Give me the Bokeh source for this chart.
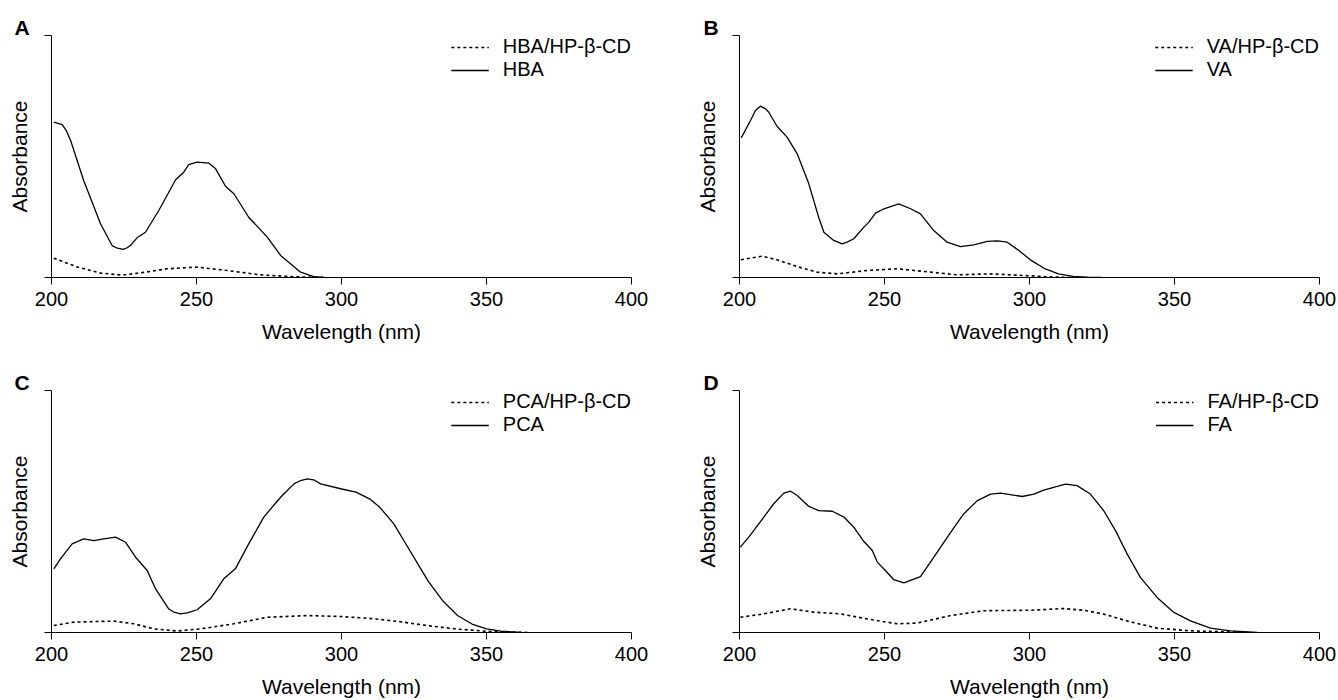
from bokeh.plotting import figure
from bokeh.layouts import column, row
from bokeh.models import Range1d, FixedTicker, Legend, LegendItem
from bokeh.embed import file_html
from bokeh.resources import INLINE

# ---------------- data ----------------
x_ticks = [200, 250, 300, 350, 400]

hba_nm = [200.8, 203.7, 205.1, 206.6, 211.1, 216.9, 220.9, 222.7, 224.7, 226.1, 227.2, 229.5, 232.4, 237.0,
          242.8, 245.6, 247.3, 250.2, 254.2, 256.6, 260.0, 262.9, 268.0, 274.4, 279.0, 285.9, 290.4, 293.9]
hba_abs = [0.642, 0.632, 0.607, 0.566, 0.401, 0.222, 0.132, 0.121, 0.116, 0.123, 0.132, 0.164, 0.187, 0.277,
           0.404, 0.435, 0.466, 0.477, 0.473, 0.449, 0.377, 0.346, 0.249, 0.167, 0.091, 0.022, 0.004, 0.0]
hba_cd_nm = [200.8, 208.9, 217.0, 224.4, 231.8, 239.9, 250.2, 260.6, 272.0, 283.6, 290.0, 295.0]
hba_cd_abs = [0.080, 0.043, 0.018, 0.010, 0.021, 0.036, 0.043, 0.029, 0.011, 0.003, 0.001, 0.0]

va_nm = [200.6, 203.8, 205.5, 207.2, 209.0, 210.1, 213.0, 216.4, 219.9, 223.9, 227.3, 229.1, 232.5, 235.4,
         237.1, 239.4, 242.9, 244.6, 246.9, 249.8, 254.9, 259.0, 262.4, 267.0, 271.6, 276.2, 280.8, 285.4,
         289.0, 292.3, 296.3, 300.3, 305.0, 310.0, 315.0, 320.0, 325.0]
va_abs = [0.577, 0.649, 0.690, 0.708, 0.697, 0.683, 0.624, 0.580, 0.511, 0.387, 0.249, 0.187, 0.153, 0.139,
          0.146, 0.160, 0.208, 0.229, 0.266, 0.284, 0.304, 0.284, 0.263, 0.194, 0.146, 0.128, 0.135, 0.149,
          0.151, 0.146, 0.112, 0.073, 0.038, 0.015, 0.005, 0.001, 0.0]
va_cd_nm = [200.5, 207.8, 213.0, 219.9, 226.8, 233.7, 244.0, 254.4, 263.6, 275.0, 286.6, 300.3, 308.0, 315.0]
va_cd_abs = [0.073, 0.088, 0.073, 0.045, 0.022, 0.015, 0.029, 0.036, 0.025, 0.011, 0.015, 0.007, 0.002, 0.0]

pca_nm = [200.8, 203.1, 207.1, 211.1, 214.6, 218.0, 222.1, 225.5, 229.0, 233.0, 235.9, 240.4, 242.2, 244.5,
          246.8, 250.2, 254.8, 259.4, 263.4, 268.0, 273.2, 279.0, 283.6, 285.9, 288.2, 290.4, 292.8, 299.7,
          305.0, 310.0, 313.0, 318.0, 322.0, 326.0, 330.0, 335.0, 340.0, 345.0, 350.0, 355.0, 362.0]
pca_abs = [0.263, 0.304, 0.366, 0.387, 0.380, 0.387, 0.394, 0.373, 0.311, 0.256, 0.180, 0.098, 0.084, 0.077,
           0.081, 0.094, 0.139, 0.222, 0.263, 0.366, 0.477, 0.559, 0.614, 0.628, 0.635, 0.631, 0.614, 0.594,
           0.580, 0.550, 0.520, 0.450, 0.370, 0.290, 0.210, 0.130, 0.070, 0.035, 0.015, 0.006, 0.0]
pca_cd_nm = [200.8, 207.7, 221.5, 228.4, 235.3, 243.3, 251.4, 262.9, 274.4, 288.2, 299.7, 310.0, 320.0, 330.0,
             340.0, 350.0, 360.0, 365.0]
pca_cd_abs = [0.029, 0.043, 0.047, 0.036, 0.015, 0.006, 0.015, 0.036, 0.063, 0.070, 0.066, 0.058, 0.045,
              0.028, 0.014, 0.005, 0.001, 0.0]

fa_nm = [200.3, 203.2, 208.4, 211.8, 215.3, 217.6, 219.9, 223.9, 227.3, 232.0, 236.0, 239.4, 242.9, 245.8,
         247.5, 250.3, 253.2, 256.7, 262.4, 268.2, 272.8, 277.3, 282.0, 286.6, 290.0, 297.5, 301.5, 304.9,
         312.4, 316.4, 321.0, 325.6, 329.7, 333.7, 338.3, 344.0, 349.8, 355.5, 362.4, 369.3, 378.5]
fa_abs = [0.353, 0.394, 0.477, 0.532, 0.576, 0.584, 0.566, 0.521, 0.504, 0.501, 0.477, 0.435, 0.376, 0.339,
          0.291, 0.256, 0.218, 0.205, 0.231, 0.332, 0.414, 0.490, 0.545, 0.572, 0.576, 0.562, 0.572, 0.588,
          0.613, 0.607, 0.572, 0.503, 0.420, 0.324, 0.227, 0.145, 0.083, 0.048, 0.018, 0.007, 0.0]
fa_cd_nm = [200.3, 208.4, 217.6, 225.6, 234.8, 244.0, 254.4, 261.3, 272.8, 284.2, 300.3, 311.8, 318.7, 325.6,
            334.8, 344.0, 355.5, 369.3, 376.0]
fa_cd_abs = [0.063, 0.077, 0.098, 0.084, 0.077, 0.056, 0.036, 0.039, 0.070, 0.090, 0.092, 0.099, 0.092,
             0.076, 0.044, 0.018, 0.007, 0.002, 0.0]

panels = [
    ("A", "HBA", hba_nm, hba_abs, hba_cd_nm, hba_cd_abs),
    ("B", "VA", va_nm, va_abs, va_cd_nm, va_cd_abs),
    ("C", "PCA", pca_nm, pca_abs, pca_cd_nm, pca_cd_abs),
    ("D", "FA", fa_nm, fa_abs, fa_cd_nm, fa_cd_abs),
]

FONT = "Liberation Sans"


def make_panel(letter, name, nm, ab, cd_nm, cd_ab, left, right, top, bottom, letter_offset):
    p = figure(frame_width=580, frame_height=242,
               min_border_left=left, min_border_right=right,
               min_border_top=top, min_border_bottom=bottom,
               x_range=Range1d(200, 400), y_range=Range1d(0, 1),
               output_backend="svg", toolbar_location=None)
    p.outline_line_color = None
    p.xgrid.visible = False
    p.ygrid.visible = False
    p.background_fill_color = "white"
    p.border_fill_color = "white"

    p.title.text = letter
    p.title.align = "left"
    p.title.offset = letter_offset
    p.title.standoff = -6
    p.title.text_font = FONT
    p.title.text_font_size = "21px"
    p.title.text_font_style = "bold"
    p.title.text_color = "black"

    r_cd = p.line(cd_nm, cd_ab, line_color="black", line_width=1.6, line_dash="3 3")
    r_free = p.line(nm, ab, line_color="black", line_width=1.3)

    xa = p.xaxis[0]
    xa.ticker = FixedTicker(ticks=x_ticks)
    xa.minor_tick_line_color = None
    xa.major_tick_out = 7
    xa.major_tick_in = 0
    xa.axis_line_color = "black"
    xa.major_tick_line_color = "black"
    xa.major_label_text_font = FONT
    xa.major_label_text_font_size = "20px"
    xa.major_label_text_color = "black"
    xa.major_label_standoff = 7
    xa.axis_label = "Wavelength (nm)"
    xa.axis_label_text_font = FONT
    xa.axis_label_text_font_size = "21px"
    xa.axis_label_text_font_style = "normal"
    xa.axis_label_text_color = "black"
    xa.axis_label_standoff = 11

    ya = p.yaxis[0]
    ya.ticker = FixedTicker(ticks=[0, 1])
    ya.major_label_overrides = {0: "", 1: ""}
    ya.minor_tick_line_color = None
    ya.major_tick_out = 7
    ya.major_tick_in = 0
    ya.axis_line_color = "black"
    ya.major_tick_line_color = "black"
    ya.axis_label = "Absorbance"
    ya.axis_label_text_font = FONT
    ya.axis_label_text_font_size = "21px"
    ya.axis_label_text_font_style = "normal"
    ya.axis_label_text_color = "black"
    ya.axis_label_standoff = 14

    legend = Legend(items=[LegendItem(label=name + "/HP-\u03b2-CD", renderers=[r_cd]),
                           LegendItem(label=name, renderers=[r_free])],
                    location="top_right", margin=0, padding=0, spacing=0,
                    glyph_width=38, glyph_height=18, label_height=18, label_standoff=14,
                    label_text_font=FONT, label_text_font_size="20px", label_text_color="black",
                    border_line_color=None, background_fill_alpha=0)
    p.add_layout(legend)
    return p


pA = make_panel(*panels[0], left=51, right=57, top=35, bottom=86, letter_offset=-37)
pB = make_panel(*panels[1], left=51, right=17, top=35, bottom=86, letter_offset=-36)
pC = make_panel(*panels[2], left=51, right=57, top=27, bottom=68, letter_offset=-37)
pD = make_panel(*panels[3], left=51, right=17, top=27, bottom=68, letter_offset=-36)

layout = column(row(pA, pB, spacing=0), row(pC, pD, spacing=0), spacing=0)

open("out.html", "w").write(file_html(layout, INLINE))
